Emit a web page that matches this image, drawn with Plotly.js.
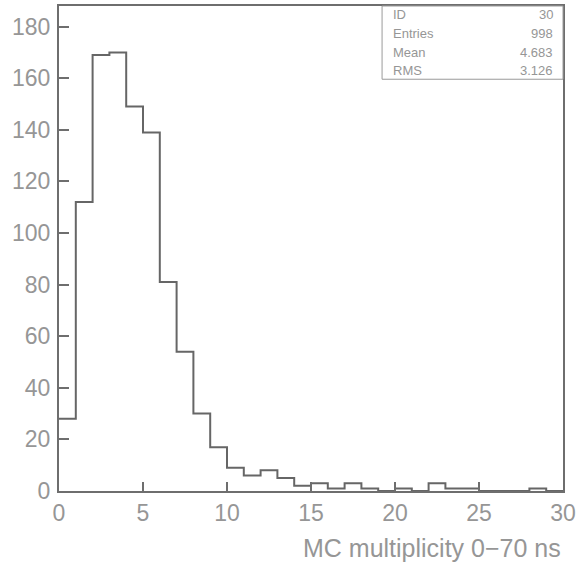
<!DOCTYPE html>
<html>
<head>
<meta charset="utf-8">
<script src="https://cdn.plot.ly/plotly-3.0.1.min.js"></script>
<style>html,body{margin:0;padding:0;background:#fff;}#chart{width:579px;height:569px;}</style>
</head>
<body>
<div id="chart"></div>
<script>
// Histogram: MC multiplicity 0-70 ns, 30 bins of width 1 from 0 to 30
const binLow = [0,1,2,3,4,5,6,7,8,9,10,11,12,13,14,15,16,17,18,19,20,21,22,23,24,25,26,27,28,29];
const binWidth = 1;
const counts = [28,112,169,170,149,139,81,54,30,17,9,6,8,5,2,3,1,3,1,0,1,0,3,1,1,0,0,0,1,0];
const statLabels = ["ID","Entries","Mean","RMS"];
const statValues = ["30","998","4.683","3.126"];
const xTicks = [0,5,10,15,20,25,30];
const yTicks = [0,20,40,60,80,100,120,140,160,180];
const xTitle = "MC multiplicity 0\u221270 ns";

// Build step outline from bin edges
const xs = [], ys = [];
binLow.forEach((b,i)=>{ xs.push(b); ys.push(counts[i]); });
xs.push(binLow[binLow.length-1]+binWidth); ys.push(counts[counts.length-1]);

const txt = "#969696";
const lineCol = "#6e6e6e";
const font = "Liberation Sans, Arial, sans-serif";

const trace = {
  x: xs, y: ys, type: "scatter", mode: "lines",
  line: {shape: "hv", color: "#666", width: 2},
  hoverinfo: "skip"
};

const annotations = [];
const rowsY = [0.9835, 0.944, 0.905, 0.868];
statLabels.forEach((s,i)=>{
  annotations.push({xref:"paper", yref:"paper", x:0.659, y:rowsY[i], xanchor:"left", yanchor:"middle",
    text:s, showarrow:false, font:{family:font, size:13, color:txt}});
  annotations.push({xref:"paper", yref:"paper", x:0.984, y:rowsY[i], xanchor:"right", yanchor:"middle",
    text:statValues[i], showarrow:false, font:{family:font, size:13, color:txt}});
});
annotations.push({xref:"paper", yref:"paper", x:1.0, y:-0.118, xanchor:"right", yanchor:"middle",
  text:xTitle, showarrow:false, font:{family:font, size:25, color:txt}});

const layout = {
  width: 579, height: 569,
  margin: {l:59, r:16, t:6, b:78},
  paper_bgcolor: "#fff", plot_bgcolor: "#fff",
  showlegend: false,
  xaxis: {
    range: [0, 30], tickvals: xTicks, ticks: "inside", ticklen: 9, tickwidth: 2, tickcolor: lineCol,
    showline: true, linecolor: lineCol, linewidth: 2, mirror: true, showgrid: false, zeroline: false,
    tickfont: {family: font, size: 23, color: txt}, ticklabelstandoff: 0
  },
  yaxis: {
    range: [0, 188], tickvals: yTicks, ticks: "inside", ticklen: 10, tickwidth: 2, tickcolor: lineCol,
    showline: true, linecolor: lineCol, linewidth: 2, mirror: true, showgrid: false, zeroline: false,
    tickfont: {family: font, size: 23, color: txt}, ticklabelstandoff: 2
  },
  shapes: [
    {type:"rect", xref:"paper", yref:"paper", x0:0.641, x1:1.0, y0:0.849, y1:1.0,
     line:{color:"#9a9a9a", width:1}, fillcolor:"rgba(255,255,255,1)", layer:"above"}
  ],
  annotations: annotations
};

Plotly.newPlot("chart", [trace], layout, {displayModeBar:false, staticPlot:true});
</script>
</body>
</html>
